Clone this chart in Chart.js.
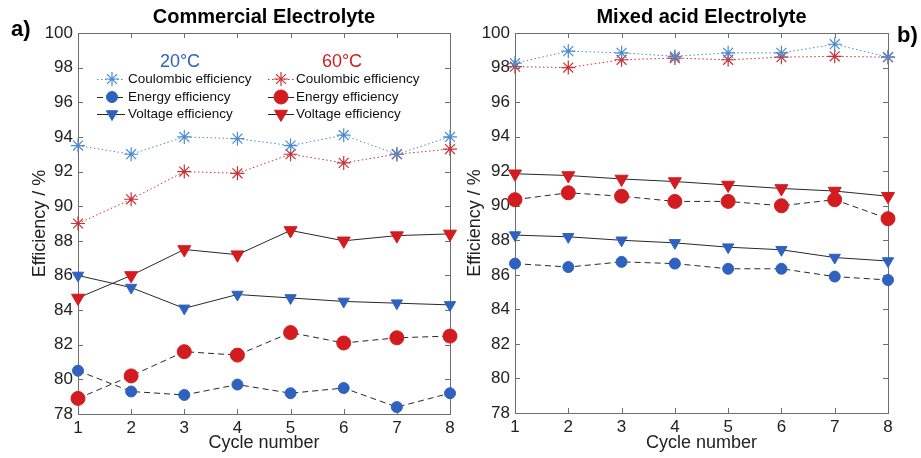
<!DOCTYPE html>
<html>
<head>
<meta charset="utf-8">
<script src="https://cdn.jsdelivr.net/npm/chart.js@4"></script>
<style>
  body { margin: 0; background: #fff; }
  .panel { position: absolute; top: 0; }
</style>
</head>
<body>
<canvas id="leftCanvas" class="panel" width="460" height="458" style="left:0px"></canvas>
<canvas id="rightCanvas" class="panel" width="461" height="458" style="left:460px"></canvas>
<script>
// cycles on the x axis
const cycles = ["1", "2", "3", "4", "5", "6", "7", "8"];

// a) Commercial Electrolyte
const comCoul20 = [93.5, 93.0, 94.0, 93.9, 93.5, 94.1, 93.0, 94.0];
const comEnergy20 = [80.5, 79.3, 79.1, 79.7, 79.2, 79.5, 78.4, 79.2];
const comVolt20 = [86.0, 85.3, 84.1, 84.9, 84.7, 84.5, 84.4, 84.3];
const comCoul60 = [89.0, 90.4, 92.0, 91.9, 93.0, 92.5, 93.0, 93.3];
const comEnergy60 = [78.9, 80.2, 81.6, 81.4, 82.7, 82.1, 82.4, 82.5];
const comVolt60 = [84.7, 86.0, 87.5, 87.2, 88.6, 88.0, 88.3, 88.4];

// b) Mixed acid Electrolyte
const mixCoul20 = [98.25, 98.95, 98.85, 98.65, 98.85, 98.85, 99.35, 98.6];
const mixEnergy20 = [86.65, 86.45, 86.75, 86.65, 86.35, 86.35, 85.9, 85.7];
const mixVolt20 = [88.3, 88.2, 88.0, 87.85, 87.6, 87.45, 87.0, 86.8];
const mixCoul60 = [98.05, 98.0, 98.45, 98.55, 98.45, 98.6, 98.65, 98.6];
const mixEnergy60 = [90.35, 90.75, 90.55, 90.25, 90.25, 90.0, 90.35, 89.25];
const mixVolt60 = [91.85, 91.75, 91.55, 91.4, 91.2, 91.0, 90.85, 90.55];

const FONT = "'Liberation Sans', Arial, Helvetica, sans-serif";
const BLUE = "rgb(47 98 190)";
const BLUE_STAR = "rgb(75 140 205)";
const RED = "rgb(210 28 32)";
const RED_STAR = "rgb(200 50 55)";
const LINE = "rgb(40 40 40)";

function makeDatasets(c20, e20, v20, c60, e60, v60) {
  return [
    {
      label: "Coulombic efficiency 20°C", data: c20,
      borderColor: BLUE_STAR, borderWidth: 1, borderDash: [1.5, 2.5],
      pointStyle: "star", pointRadius: 7, pointBorderColor: BLUE_STAR, pointBorderWidth: 1.2,
    },
    {
      label: "Energy efficiency 20°C", data: e20,
      borderColor: LINE, borderWidth: 1, borderDash: [6, 4],
      pointStyle: "circle", pointRadius: 5.5, pointBackgroundColor: BLUE, pointBorderColor: BLUE,
    },
    {
      label: "Voltage efficiency 20°C", data: v20,
      borderColor: LINE, borderWidth: 1,
      pointStyle: "triangle", pointRotation: 180, pointRadius: 6.5,
      pointBackgroundColor: BLUE, pointBorderColor: BLUE,
    },
    {
      label: "Coulombic efficiency 60°C", data: c60,
      borderColor: RED_STAR, borderWidth: 1, borderDash: [1.5, 2.5],
      pointStyle: "star", pointRadius: 7, pointBorderColor: RED_STAR, pointBorderWidth: 1.2,
    },
    {
      label: "Energy efficiency 60°C", data: e60,
      borderColor: LINE, borderWidth: 1, borderDash: [6, 4],
      pointStyle: "circle", pointRadius: 7, pointBackgroundColor: RED, pointBorderColor: RED,
    },
    {
      label: "Voltage efficiency 60°C", data: v60,
      borderColor: LINE, borderWidth: 1,
      pointStyle: "triangle", pointRotation: 180, pointRadius: 7.5,
      pointBackgroundColor: RED, pointBorderColor: RED,
    },
  ].map((d) => Object.assign({ fill: false, tension: 0, clip: false, pointHoverRadius: d.pointRadius }, d));
}

// matlab style box with inward ticks, panel title and letter
const boxPlugin = {
  id: "box",
  beforeDatasetsDraw(chart, args, opts) {
    const { ctx, chartArea: a, scales } = chart;
    ctx.save();
    ctx.strokeStyle = "rgb(110 110 110)";
    ctx.lineWidth = 1;
    ctx.beginPath();
    scales.y.ticks.forEach((t) => {
      const y = Math.round(scales.y.getPixelForValue(t.value)) + 0.5;
      ctx.moveTo(a.left, y); ctx.lineTo(a.left + 5, y);
      ctx.moveTo(a.right, y); ctx.lineTo(a.right - 5, y);
    });
    cycles.forEach((c, i) => {
      const x = Math.round(scales.x.getPixelForValue(i)) + 0.5;
      ctx.moveTo(x, a.bottom); ctx.lineTo(x, a.bottom - 5);
      ctx.moveTo(x, a.top); ctx.lineTo(x, a.top + 5);
    });
    ctx.stroke();
    ctx.strokeRect(Math.round(a.left) + 0.5, Math.round(a.top) + 0.5, Math.round(a.right - a.left), Math.round(a.bottom - a.top));
    ctx.restore();
  },
  afterDraw(chart, args, opts) {
    const { ctx, chartArea: a } = chart;
    ctx.save();
    ctx.fillStyle = "#000";
    ctx.textAlign = "center";
    ctx.textBaseline = "middle";
    ctx.font = "bold 20px " + FONT;
    ctx.fillText(opts.title, (a.left + a.right) / 2, 17);
    ctx.font = "bold 22px " + FONT;
    ctx.textAlign = "left";
    ctx.textBaseline = "alphabetic";
    ctx.fillText(opts.letter, opts.letterX, opts.letterY);
    ctx.restore();
  },
};

// legend drawn inside the left panel
const legendPlugin = {
  id: "innerLegend",
  afterDraw(chart) {
    const ctx = chart.ctx;
    const drawPoint = Chart.helpers.drawPoint;
    ctx.save();
    ctx.font = "18px " + FONT;
    ctx.textAlign = "center";
    ctx.textBaseline = "middle";
    ctx.fillStyle = BLUE;
    ctx.fillText("20°C", 180, 62);
    ctx.fillStyle = RED;
    ctx.fillText("60°C", 342, 62);

    const rows = [79, 97, 114];
    const cols = [
      { x0: 97, x1: 125, xm: 112, xt: 128, ds: [0, 1, 2] },
      { x0: 268, x1: 294, xm: 281, xt: 296, ds: [3, 4, 5] },
    ];
    const names = ["Coulombic efficiency", "Energy efficiency", "Voltage efficiency"];
    ctx.font = "13.5px " + FONT;
    cols.forEach((col) => {
      col.ds.forEach((di, r) => {
        const d = chart.data.datasets[di];
        const y = rows[r];
        ctx.save();
        ctx.strokeStyle = d.borderColor;
        ctx.lineWidth = 1;
        ctx.setLineDash(d.borderDash || []);
        ctx.beginPath();
        ctx.moveTo(col.x0, y + 0.5);
        ctx.lineTo(col.x1, y + 0.5);
        ctx.stroke();
        ctx.restore();
        ctx.fillStyle = d.pointBackgroundColor || d.pointBorderColor;
        ctx.strokeStyle = d.pointBorderColor;
        ctx.lineWidth = d.pointBorderWidth || 1;
        drawPoint(ctx, {
          pointStyle: d.pointStyle,
          radius: d.pointRadius,
          rotation: d.pointRotation || 0,
          borderWidth: d.pointBorderWidth || 1,
        }, col.xm, y);
        ctx.fillStyle = "#111";
        ctx.textAlign = "left";
        ctx.fillText(names[r], col.xt, y);
      });
    });
    ctx.restore();
  },
};

function makeOptions(pad, yWidth, xHeight, title, letter, letterX, letterY) {
  return {
    responsive: false,
    animation: false,
    devicePixelRatio: 1,
    layout: { padding: pad },
    plugins: {
      legend: { display: false },
      tooltip: { enabled: false },
      box: { title: title, letter: letter, letterX: letterX, letterY: letterY },
    },
    scales: {
      x: {
        type: "category",
        offset: false,
        grid: { display: false, drawTicks: false },
        border: { display: false },
        ticks: { color: "#222", font: { family: FONT, size: 17 }, padding: 4, maxRotation: 0, autoSkip: false },
        title: { display: true, text: "Cycle number", color: "#222", font: { family: FONT, size: 18 } },
        afterFit: (s) => { s.height = xHeight; },
      },
      y: {
        min: 78,
        max: 100,
        grid: { display: false, drawTicks: false },
        border: { display: false },
        ticks: { stepSize: 2, color: "#222", font: { family: FONT, size: 17 }, padding: 5 },
        title: { display: true, text: "Efficiency / %", color: "#222", font: { family: FONT, size: 18 } },
        afterFit: (s) => { s.width = yWidth; },
      },
    },
  };
}

new Chart(document.querySelector("#leftCanvas"), {
  type: "line",
  data: {
    labels: cycles,
    datasets: makeDatasets(comCoul20, comEnergy20, comVolt20, comCoul60, comEnergy60, comVolt60),
  },
  options: makeOptions({ left: 25, top: 33, right: 10, bottom: 0 }, 53, 44,
    "Commercial Electrolyte", "a)", 11, 36),
  plugins: [boxPlugin, legendPlugin],
});

new Chart(document.querySelector("#rightCanvas"), {
  type: "line",
  data: {
    labels: cycles,
    datasets: makeDatasets(mixCoul20, mixEnergy20, mixVolt20, mixCoul60, mixEnergy60, mixVolt60),
  },
  options: makeOptions({ left: 0, top: 33, right: 33, bottom: 0 }, 55, 45,
    "Mixed acid Electrolyte", "b)", 437, 42),
  plugins: [boxPlugin],
});
</script>
</body>
</html>
